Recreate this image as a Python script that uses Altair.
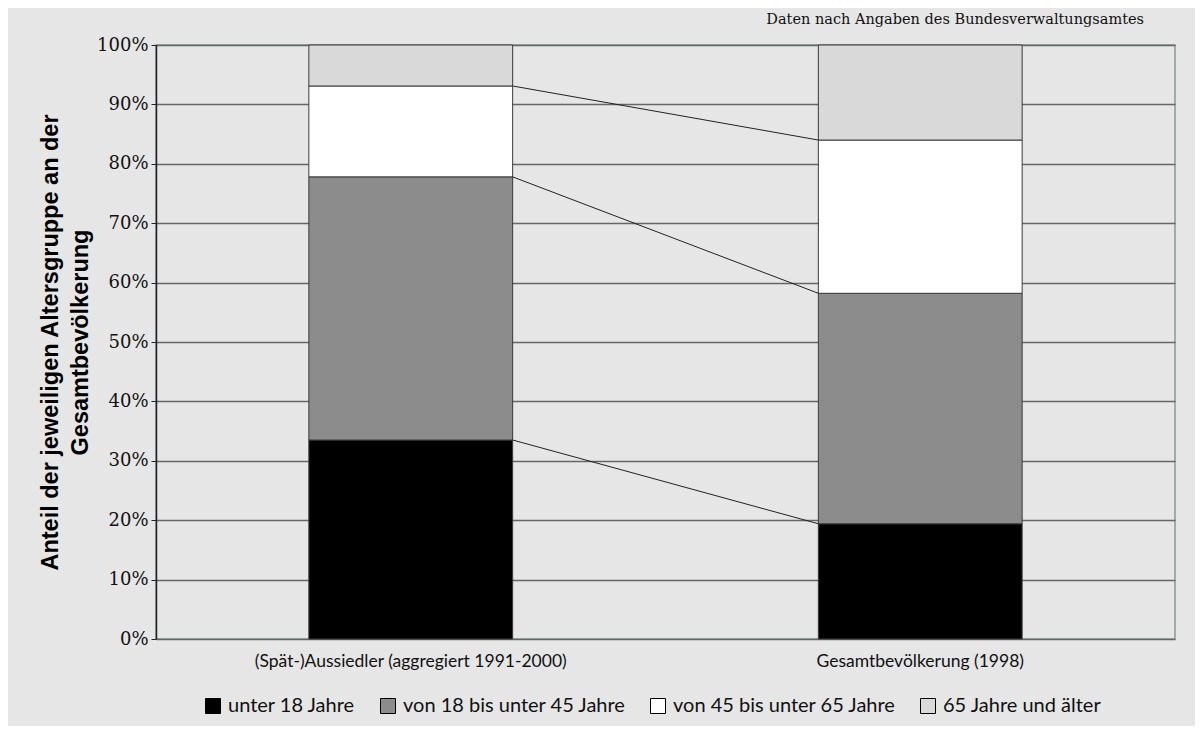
import altair as alt
import pandas as pd

categories = ["(Spät-)Aussiedler (aggregiert 1991-2000)", "Gesamtbevölkerung (1998)"]
groups = ["unter 18 Jahre", "von 18 bis unter 45 Jahre", "von 45 bis unter 65 Jahre", "65 Jahre und älter"]
aussiedler = [33.5, 44.3, 15.3, 6.9]
gesamt = [19.4, 38.8, 25.8, 16.0]
colors = ["#000000", "#8c8c8c", "#ffffff", "#d9d9d9"]
y_ticks = [0, 10, 20, 30, 40, 50, 60, 70, 80, 90, 100]

rows = []
for cat, vals in zip(categories, [aussiedler, gesamt]):
    for i, (g, v) in enumerate(zip(groups, vals)):
        rows.append({"cat": cat, "group": g, "value": v, "idx": i})
df = pd.DataFrame(rows)

# connector lines between cumulative tops (except the 100% top)
cum_a, cum_g = [], []
sa = sg = 0.0
for a, g in zip(aussiedler, gesamt):
    sa += a
    sg += g
    cum_a.append(sa)
    cum_g.append(sg)
lines = pd.DataFrame({
    "from": [categories[0]] * 3,
    "to": [categories[1]] * 3,
    "y1": cum_a[:3],
    "y2": cum_g[:3],
})

xscale = alt.Scale(domain=categories, paddingInner=0.6, paddingOuter=0.3)

bars = alt.Chart(df).mark_bar(stroke="#3a3a3a", strokeWidth=1).encode(
    x=alt.X("cat:N", scale=xscale, sort=categories,
            axis=alt.Axis(title=None, labelAngle=0, ticks=False, domain=False,
                          labelFont="Lato", labelFontSize=17.5, labelColor="#111111",
                          labelPadding=13, labelLimit=600)),
    y=alt.Y("value:Q", stack="zero",
            scale=alt.Scale(domain=[0, 100], nice=False),
            axis=alt.Axis(values=y_ticks, labelExpr="datum.value + '%'",
                          title=["Anteil der jeweiligen Altersgruppe an der", "Gesamtbevölkerung"],
                          titleFont="Liberation Sans", titleFontSize=23.5, titleFontWeight="bold",
                          titleColor="#000000", titlePadding=4, titleLineHeight=30,
                          labelFont="DejaVu Serif", labelFontSize=18, labelColor="#111111",
                          labelPadding=3, tickSize=5, tickColor="#222222",
                          domainColor="#222222", domainWidth=1.5,
                          grid=True, gridColor="#666666", gridWidth=1.5)),
    color=alt.Color("group:N", scale=alt.Scale(domain=groups, range=colors),
                    legend=alt.Legend(title=None, orient="none", direction="horizontal",
                                      legendX=47, legendY=651,
                                      symbolType="square", symbolSize=225,
                                      symbolStrokeColor="#000000", symbolStrokeWidth=1,
                                      labelOffset=5,
                                      labelFont="Lato", labelFontSize=20, labelColor="#111111",
                                      columnPadding=22, labelLimit=400)),
    order=alt.Order("idx:Q", sort="ascending"),
)

rules = alt.Chart(lines).mark_rule(color="#222222", strokeWidth=1).encode(
    x=alt.X("from:N", scale=xscale, bandPosition=1),
    x2=alt.X2("to:N", bandPosition=0),
    y=alt.Y("y1:Q"),
    y2=alt.Y2("y2:Q"),
)

chart = alt.layer(bars, rules).properties(
    width=1019, height=594,
    background="#e6e6e6",
    padding={"left": 30, "top": 3, "right": 20, "bottom": 10},
    title=alt.TitleParams("Daten nach Angaben des Bundesverwaltungsamtes",
                          anchor="end", font="DejaVu Serif", fontSize=14.5,
                          fontWeight="normal", color="#111111", dx=-31, offset=9),
).configure_view(fill="#e6e6e6", stroke="#8a9a9a", strokeWidth=1.5)

chart.save("out.html", embed_options={"renderer": "svg", "actions": False})
